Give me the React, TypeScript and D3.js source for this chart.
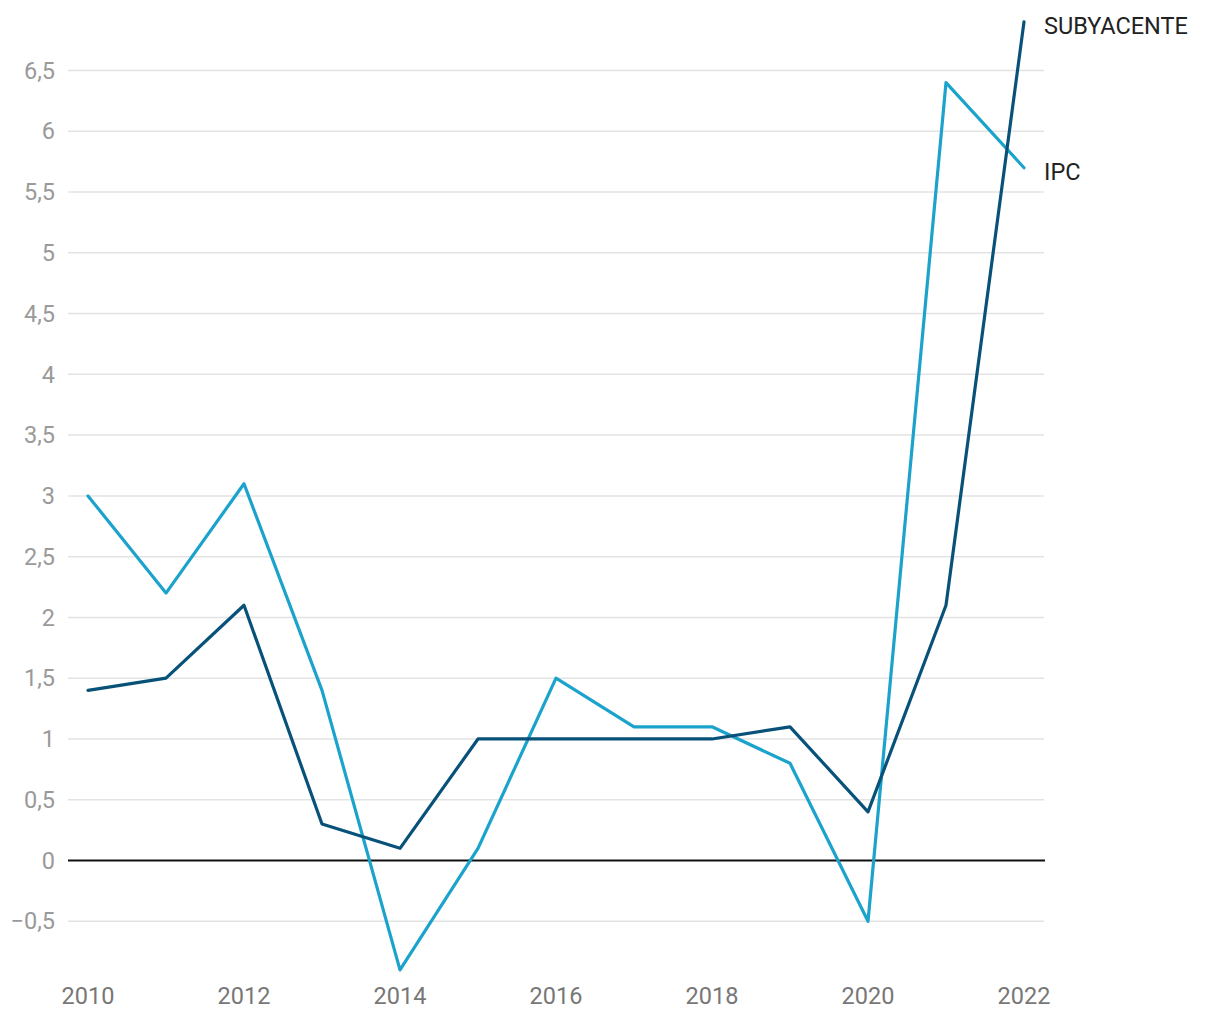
import React from "react";
import * as d3 from "d3";

const years = [2010, 2011, 2012, 2013, 2014, 2015, 2016, 2017, 2018, 2019, 2020, 2021, 2022];
const ipc = [3.0, 2.2, 3.1, 1.4, -0.9, 0.1, 1.5, 1.1, 1.1, 0.8, -0.5, 6.4, 5.7];
const subyacente = [1.4, 1.5, 2.1, 0.3, 0.1, 1.0, 1.0, 1.0, 1.0, 1.1, 0.4, 2.1, 6.9];
const yTicks = [-0.5, 0, 0.5, 1, 1.5, 2, 2.5, 3, 3.5, 4, 4.5, 5, 5.5, 6, 6.5];
const xTicks = [2010, 2012, 2014, 2016, 2018, 2020, 2022];
const seriesNames = ["IPC", "SUBYACENTE"];

const W = 1220;
const H = 1020;
const font = "Roboto, 'Noto Sans', sans-serif";
const fs = 23.5;

export default function App() {
  const x = d3.scaleLinear().domain([2010, 2022]).range([88, 1024]);
  const y = d3.scaleLinear().domain([0, 6.5]).range([860.5, 70.5]);
  const line = d3
    .line<[number, number]>()
    .x((d) => x(d[0]))
    .y((d) => y(d[1]));
  const fmt = (v: number) => (v < 0 ? "\u2212" : "") + String(Math.abs(v)).replace(".", ",");
  const series = [
    { name: seriesNames[0], values: ipc, color: "#1ba3cc" },
    { name: seriesNames[1], values: subyacente, color: "#08527a" },
  ];
  return (
    <svg width={W} height={H} style={{ position: "absolute", left: 0, top: 0, background: "#fff" }}>
      {yTicks.map((t) => (
        <g key={t}>
          {t !== 0 && (
            <line x1={68} x2={1044} y1={y(t)} y2={y(t)} stroke="#e3e3e3" strokeWidth={1.5} />
          )}
          <text
            x={55}
            y={y(t)}
            dy="0.35em"
            textAnchor="end"
            fontFamily={font}
            fontSize={fs}
            fill="#9a9a9a"
          >
            {fmt(t)}
          </text>
        </g>
      ))}
      <line x1={68} x2={1045} y1={y(0)} y2={y(0)} stroke="#111" strokeWidth={2} />
      {xTicks.map((t) => (
        <text
          key={t}
          x={x(t)}
          y={1004}
          textAnchor="middle"
          fontFamily={font}
          fontSize={fs}
          fill="#777"
        >
          {t}
        </text>
      ))}
      {series.map((s) => (
        <g key={s.name}>
          <path
            d={line(years.map((yr, i) => [yr, s.values[i]] as [number, number])) || ""}
            fill="none"
            stroke={s.color}
            strokeWidth={3.2}
            strokeLinejoin="round"
            strokeLinecap="round"
          />
          <text
            x={1044}
            y={y(s.values[s.values.length - 1]) + 4}
            dy="0.35em"
            fontFamily={font}
            fontSize={fs}
            fill="#222"
          >
            {s.name}
          </text>
        </g>
      ))}
    </svg>
  );
}
